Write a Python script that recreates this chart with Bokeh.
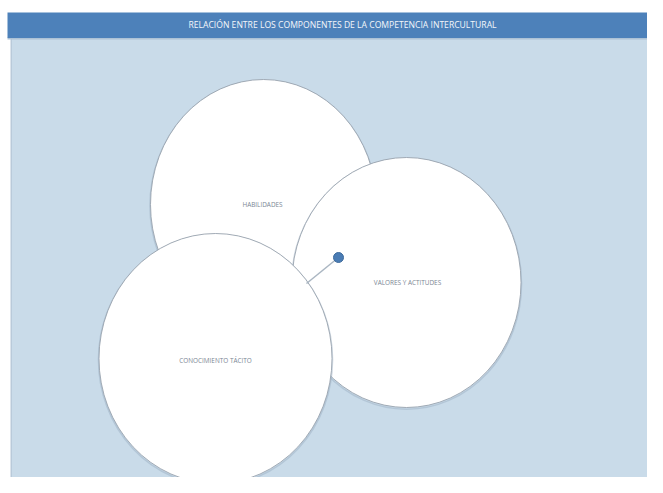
from bokeh.plotting import figure
from bokeh.models import Range1d
from bokeh.core.properties import value
from bokeh.embed import file_html
from bokeh.resources import INLINE

# ---- data ----
title_text = "RELACIÓN ENTRE LOS COMPONENTES DE LA COMPETENCIA INTERCULTURAL"
components = ["HABILIDADES", "VALORES Y ACTITUDES", "CONOCIMIENTO TÁCITO"]

# ---- layout (page pixel coordinates, y measured downward) ----
W, H = 647, 477
cx = [263, 406, 215]
cy = [204, 282, 358]
ew = [226, 229, 233]
eh = [250, 250, 250]
label_x = [262, 407, 215]
label_y = [204, 282, 360]

def Y(v):
    return H - v

p = figure(width=W, height=H, output_backend="svg", toolbar_location=None,
           x_range=Range1d(0, W), y_range=Range1d(0, H),
           min_border=0, background_fill_color="white", border_fill_color="white")
p.axis.visible = False
p.grid.visible = False
p.outline_line_color = None

# panel and title bar
p.quad(left=[11], right=[W + 20], top=[Y(38)], bottom=[Y(H + 20)],
       fill_color="#c9dbe9", line_color=None)
p.quad(left=[10], right=[11.5], top=[Y(38)], bottom=[Y(H + 20)],
       fill_color="#b9cada", line_color=None)
p.quad(left=[7], right=[W + 20], top=[Y(37)], bottom=[Y(39)],
       fill_color="#adc2d6", line_color=None)
p.quad(left=[7], right=[W + 20], top=[Y(12)], bottom=[Y(37.5)],
       fill_color="#4d81ba", line_color=None)
p.text(x=[342], y=[Y(24.5)], text=[title_text], text_color="#f4f7fb",
       text_font=value("Open Sans"), text_font_size="8.6px",
       text_align="center", text_baseline="middle")

# ellipses (drawn in order: habilidades, valores, conocimiento)
for i in range(3):
    p.ellipse(x=[cx[i]], y=[Y(cy[i]) - 1.2], width=[ew[i] + 1], height=[eh[i] + 1],
              fill_color=None, line_color="#98acc0", line_alpha=0.45, line_width=1.6)
    p.ellipse(x=[cx[i]], y=[Y(cy[i])], width=[ew[i]], height=[eh[i]],
              fill_color="white", line_color="#98a3ae", line_width=0.9)

# connector and dot
p.line(x=[338, 306], y=[Y(257), Y(283)], line_color="#aab6c2", line_width=1.5)
p.scatter(x=[338], y=[Y(257)], size=10, fill_color="#4a7cb4",
          line_color="#3d6a9c", line_width=1)

p.text(x=label_x, y=[Y(v) for v in label_y], text=components,
       text_color="#7a8694", text_font=value("Open Sans"),
       text_font_size="6.4px", text_align="center", text_baseline="middle")

open("out.html", "w").write(file_html(p, INLINE))
